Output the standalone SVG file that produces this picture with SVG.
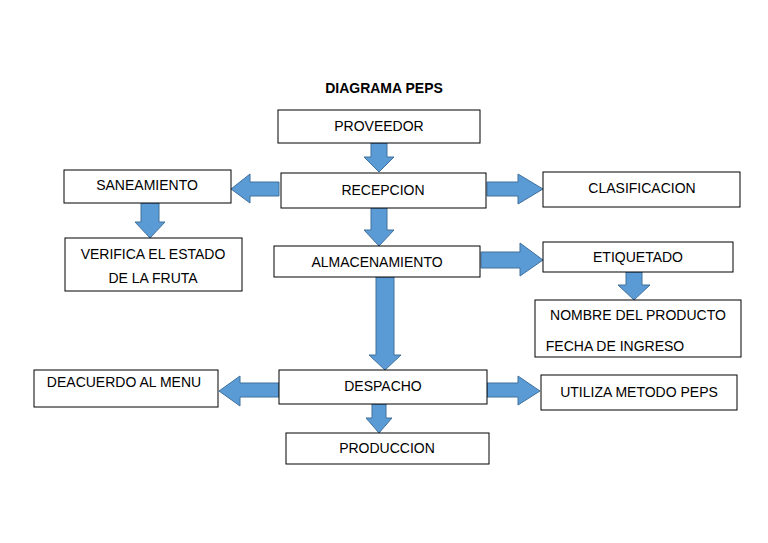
<svg xmlns="http://www.w3.org/2000/svg" width="768" height="543" viewBox="0 0 768 543">
<style>
.b{fill:#fff;stroke:#000;stroke-width:1}
.t{font-family:"Liberation Sans",Arial,sans-serif;font-size:14px;fill:#000;text-anchor:middle}
.a{fill:#5B9BD5;stroke:#41719C;stroke-width:1}
</style>
<rect width="768" height="543" fill="#fff"/>
<text class="t" x="384" y="93" style="font-weight:bold">DIAGRAMA PEPS</text>
<g id="connectors">
<path class="a" d="M371,143H387V157H394L379,172L364,157H371Z"/>
<path class="a" d="M371,208H387V230H394L379,246L364,230H371Z"/>
<path class="a" d="M376,277H394V355H401L385,370L369,355H376Z"/>
<path class="a" d="M372,404H386V418H392L379,433L366,418H372Z"/>
<path class="a" d="M141,203H159V222H165L150,238L135,222H141Z"/>
<path class="a" d="M626,272H642V285H650L634,300L618,285H626Z"/>
<path class="a" d="M279,182V196H250V203L231,189L250,174V182Z"/>
<path class="a" d="M279,383V397H240V406L219,391L240,376V383Z"/>
<path class="a" d="M487,182V196H518V204L543,189L518,174V182Z"/>
<path class="a" d="M481,252V268H520V276L543,260L520,243V252Z"/>
<path class="a" d="M487,383V397H518V405L540,391L518,376V383Z"/>
</g>
<g id="proveedor"><rect class="b" x="278" y="110" width="202" height="33"/><text class="t" x="379" y="131">PROVEEDOR</text></g>
<g id="recepcion"><rect class="b" x="281" y="173" width="205" height="35"/><text class="t" x="383" y="195">RECEPCION</text></g>
<g id="saneamiento"><rect class="b" x="64" y="170" width="167" height="33"/><text class="t" x="147" y="190">SANEAMIENTO</text></g>
<g id="clasificacion"><rect class="b" x="543" y="172" width="197" height="35"/><text class="t" x="642" y="193">CLASIFICACION</text></g>
<g id="verifica"><rect class="b" x="65" y="238" width="177" height="53"/><text class="t" x="153" y="259">VERIFICA EL ESTADO</text><text class="t" x="153" y="283">DE LA FRUTA</text></g>
<g id="almacenamiento"><rect class="b" x="274" y="246" width="206" height="31"/><text class="t" x="377" y="267">ALMACENAMIENTO</text></g>
<g id="etiquetado"><rect class="b" x="543" y="242" width="190" height="30"/><text class="t" x="638" y="262">ETIQUETADO</text></g>
<g id="nombre"><rect class="b" x="535" y="300" width="206" height="57"/><text class="t" x="638" y="320">NOMBRE DEL PRODUCTO</text><text class="t" x="615" y="351">FECHA DE INGRESO</text></g>
<g id="despacho"><rect class="b" x="279" y="370" width="208" height="34"/><text class="t" x="383" y="391">DESPACHO</text></g>
<g id="deacuerdo"><rect class="b" x="34" y="370" width="184" height="37"/><text class="t" x="124" y="387">DEACUERDO AL MENU</text></g>
<g id="utiliza"><rect class="b" x="541" y="375" width="196" height="35"/><text class="t" x="639" y="397">UTILIZA METODO PEPS</text></g>
<g id="produccion"><rect class="b" x="286" y="433" width="203" height="31"/><text class="t" x="387" y="453">PRODUCCION</text></g>
</svg>
